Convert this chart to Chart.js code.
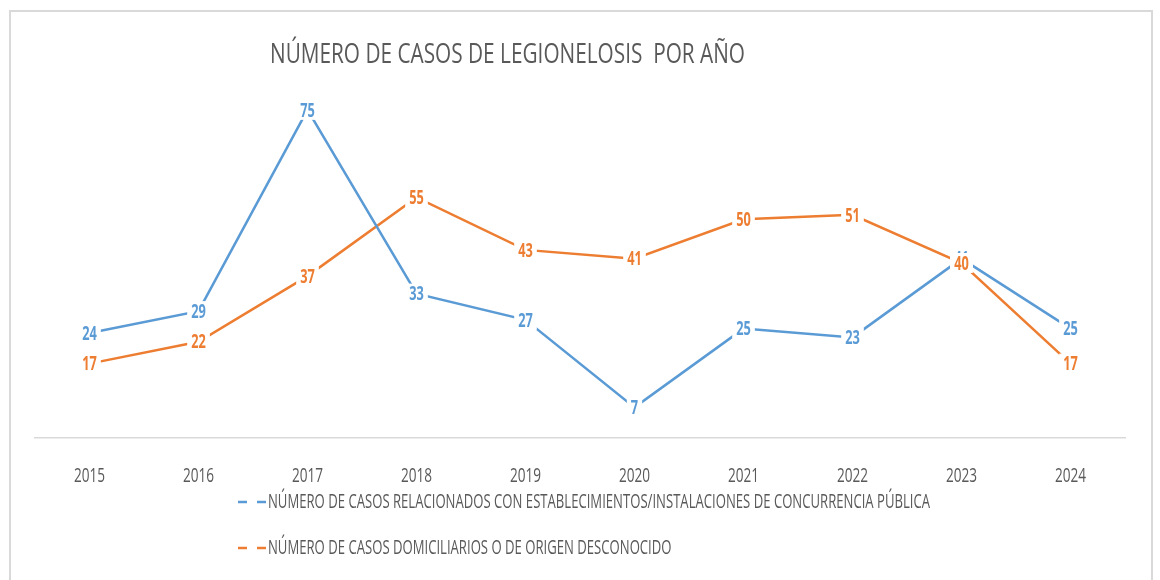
<!DOCTYPE html>
<html>
<head>
<meta charset="utf-8">
<script src="https://cdn.jsdelivr.net/npm/chart.js@4.4.1/dist/chart.umd.min.js"></script>
<style>
  html, body { margin: 0; padding: 0; background: #fff; overflow: hidden; }
  #wrap { position: relative; width: 1160px; height: 580px; }
  #frame { position: absolute; left: 9px; top: 10px; width: 1144px; height: 600px; border: 2px solid #d9d9d9; box-sizing: border-box; pointer-events: none; }
  canvas { position: absolute; left: 0; top: 0; }
</style>
</head>
<body>
<div id="wrap">
  <canvas id="c" width="1160" height="580"></canvas>
  <div id="frame"></div>
</div>
<script>
const titleText = 'NÚMERO DE CASOS DE LEGIONELOSIS  POR AÑO';
const categories = ['2015', '2016', '2017', '2018', '2019', '2020', '2021', '2022', '2023', '2024'];
const seriesNames = [
  'NÚMERO DE CASOS RELACIONADOS CON ESTABLECIMIENTOS/INSTALACIONES DE CONCURRENCIA PÚBLICA',
  'NÚMERO DE CASOS DOMICILIARIOS O DE ORIGEN DESCONOCIDO'
];
const publicCases = [24, 29, 75, 33, 27, 7, 25, 23, 41, 25];
const homeCases = [17, 22, 37, 55, 43, 41, 50, 51, 40, 17];
const seriesColors = ['#5B9BD5', '#ED7D31'];

const FONT = "'Open Sans', 'Liberation Sans', sans-serif";
const GRAY = '#595959';

function squish(ctx, text, x, y, font, color, sx, align) {
  ctx.save();
  ctx.font = font;
  ctx.fillStyle = color;
  ctx.textBaseline = 'middle';
  ctx.textAlign = 'left';
  const w = ctx.measureText(text).width * sx;
  const left = align === 'center' ? x - w / 2 : x;
  ctx.translate(left, y);
  ctx.scale(sx, 1);
  ctx.fillText(text, 0, 0);
  ctx.restore();
  return w;
}
function fitScale(ctx, text, font, width) {
  ctx.save(); ctx.font = font;
  const w = ctx.measureText(text).width;
  ctx.restore();
  return width / w;
}

const decorPlugin = {
  id: 'decor',
  afterDatasetsDraw(chart) {
    const ctx = chart.ctx;
    const xs = chart.scales.x;
    // data labels
    chart.data.datasets.forEach((ds, di) => {
      const meta = chart.getDatasetMeta(di);
      meta.data.forEach((pt, i) => {
        const txt = String(ds.data[i]);
        const font = "bold 20px " + FONT;
        ctx.save(); ctx.font = font;
        const w = ctx.measureText(txt).width * 0.64;
        ctx.restore();
        ctx.fillStyle = '#ffffff';
        ctx.fillRect(pt.x - w / 2 - 4, pt.y - 10, w + 8, 20);
        squish(ctx, txt, pt.x, pt.y + 1, font, ds.borderColor, 0.64, 'center');
      });
    });
  },
  afterDraw(chart) {
    const ctx = chart.ctx;
    const xs = chart.scales.x;
    // title
    const tFont = "27px " + FONT;
    squish(ctx, titleText, 270, 55, tFont, GRAY, fitScale(ctx, titleText, tFont, 475), 'left');
    // category labels
    const cFont = "20px " + FONT;
    categories.forEach((c, i) => {
      squish(ctx, c, xs.getPixelForValue(i), 476, cFont, GRAY, 0.68, 'center');
    });
    // legend
    const lFont = "20px " + FONT;
    const lsx = fitScale(ctx, seriesNames[0], lFont, 662);
    const rows = [502, 548];
    seriesNames.forEach((name, i) => {
      const y = rows[i];
      ctx.save();
      ctx.strokeStyle = seriesColors[i];
      ctx.lineWidth = 2.5;
      ctx.beginPath();
      ctx.moveTo(238, y); ctx.lineTo(247, y);
      ctx.moveTo(257, y); ctx.lineTo(266, y);
      ctx.stroke();
      ctx.restore();
      squish(ctx, name, 268, y, lFont, GRAY, lsx, 'left');
    });
  }
};

new Chart(document.getElementById('c'), {
  type: 'line',
  data: {
    labels: categories,
    datasets: [
      { label: seriesNames[0], data: publicCases, borderColor: seriesColors[0], backgroundColor: seriesColors[0], borderWidth: 2.5, pointRadius: 0, tension: 0 },
      { label: seriesNames[1], data: homeCases, borderColor: seriesColors[1], backgroundColor: seriesColors[1], borderWidth: 2.5, pointRadius: 0, tension: 0 }
    ]
  },
  options: {
    responsive: false,
    animation: false,
    layout: { padding: { top: 88, left: 35, right: 35, bottom: 142 } },
    plugins: { legend: { display: false }, title: { display: false }, tooltip: { enabled: false } },
    scales: {
      x: {
        offset: true,
        grid: { display: false, drawTicks: false },
        border: { display: true, color: '#d9d9d9', width: 1.5 },
        ticks: { display: false }
      },
      y: { display: false, min: 0, max: 80 }
    }
  },
  plugins: [decorPlugin]
});
</script>
</body>
</html>
